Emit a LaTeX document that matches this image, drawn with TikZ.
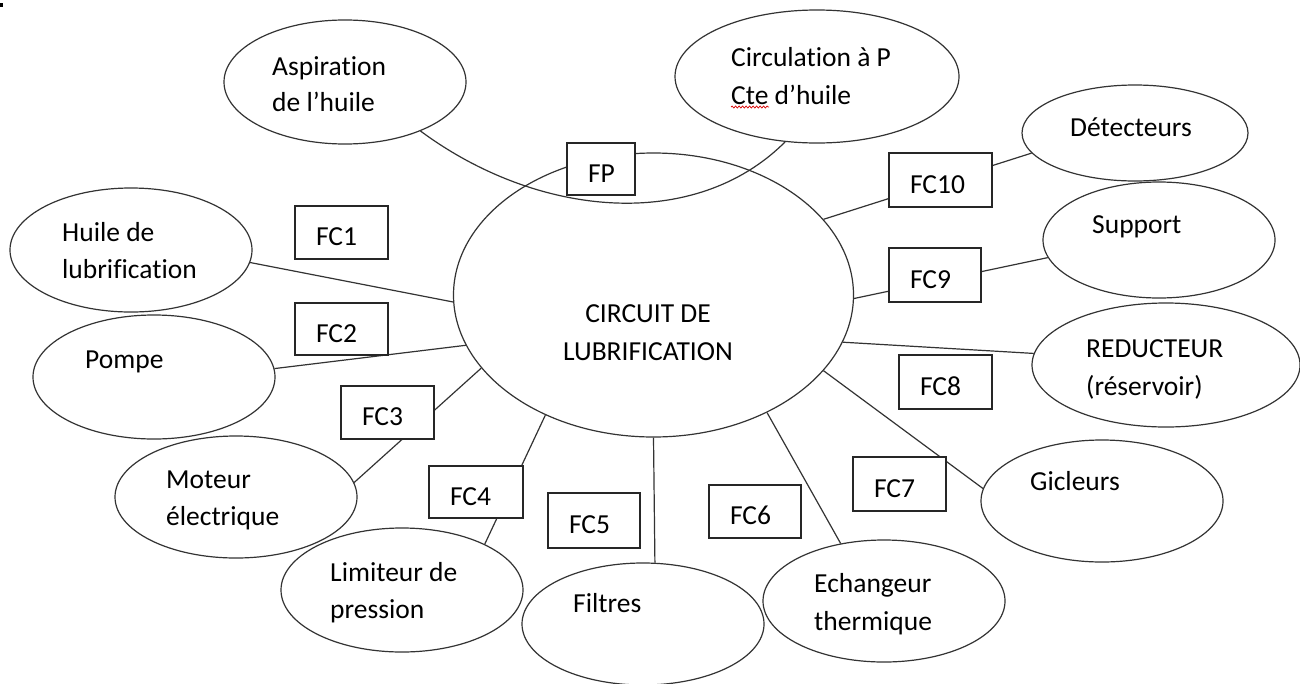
\documentclass[tikz,border=0pt]{standalone}
\usepackage{fontspec}
\setmainfont{Carlito}[Ligatures={NoCommon,NoRare,NoContextual}]
\usetikzlibrary{shapes.geometric,decorations.pathmorphing}
\newcommand\lblfont{\fontsize{27.5}{33}\selectfont}
\begin{document}
\begin{tikzpicture}[x=1pt,y=-1pt,
  ell/.style={ellipse, draw=black!80, line width=1.2pt, inner sep=0pt},
  fcbox/.style={rectangle, draw=black!85, line width=1.2pt, fill=white,
    inner xsep=0pt, inner ysep=0pt, align=left, text height=26pt,
    text depth=0pt, font=\lblfont},
  conn/.style={draw=black!80, line width=1.2pt},
  txt/.style={anchor=base west, inner sep=0pt, font=\lblfont},
  ctxt/.style={anchor=base, inner sep=0pt, font=\lblfont}]
\fill[white] (0,0) rectangle (1300,683);
\useasboundingbox (0,0) rectangle (1300,683);
\fill[black] (0,3) rectangle (3,7);

% ellipses
\node[ell, minimum width=400pt, minimum height=284pt] (c) at (653.5,295) {};
\node[ell, minimum width=242pt, minimum height=124pt] (asp) at (345,82) {};
\node[ell, minimum width=284pt, minimum height=133pt] (circ) at (817,76.5) {};
\node[ell, minimum width=226pt, minimum height=96pt] (det) at (1135,133) {};
\node[ell, minimum width=232pt, minimum height=116pt] (sup) at (1159,240) {};
\node[ell, minimum width=268pt, minimum height=124pt] (red) at (1166,365) {};
\node[ell, minimum width=242pt, minimum height=122pt] (gic) at (1102,501) {};
\node[ell, minimum width=242pt, minimum height=122pt] (ech) at (884,601) {};
\node[ell, minimum width=242pt, minimum height=122pt] (fil) at (643,624) {};
\node[ell, minimum width=242pt, minimum height=124pt] (lim) at (402,590) {};
\node[ell, minimum width=242pt, minimum height=122pt] (mot) at (236,497) {};
\node[ell, minimum width=242pt, minimum height=124pt] (pom) at (154,377) {};
\node[ell, minimum width=242pt, minimum height=124pt] (hui) at (131,250) {};

% texts
\node[ctxt] (tc1) at (648,322) {CIRCUIT DE};
\node[ctxt] (tc2) at (648,360) {LUBRIFICATION};
\node[txt] (tasp1) at (272,75) {Aspiration};
\node[txt] (tasp2) at (272,111) {de l’huile};
\node[txt] (tcirc1) at (731,66) {Circulation à P};
\node[txt] (tcirc2) at (731,104) {Cte d’huile};
\node[txt] (tdet) at (1070,136) {Détecteurs};
\node[txt] (tsup) at (1092,233) {Support};
\node[txt] (tred1) at (1086,357) {REDUCTEUR};
\node[txt] (tred2) at (1086,395) {(réservoir)};
\node[txt] (tgic) at (1030,490) {Gicleurs};
\node[txt] (tech1) at (814,592) {Echangeur};
\node[txt] (tech2) at (814,630) {thermique};
\node[txt] (tfil) at (573,612) {Filtres};
\node[txt] (tlim1) at (330,581) {Limiteur de};
\node[txt] (tlim2) at (330,618) {pression};
\node[txt] (tmot1) at (166,488) {Moteur};
\node[txt] (tmot2) at (166,525) {électrique};
\node[txt] (tpom) at (85,368) {Pompe};
\node[txt] (thui1) at (62,241) {Huile de};
\node[txt] (thui2) at (62,278) {lubrification};

\draw[red!85!black, line width=0.7pt, decorate,
  decoration={snake, amplitude=1pt, segment length=3.5pt}]
  ([yshift=-3pt]tcirc2.base west) -- ++(38,0);

% connectors
\draw[conn] (hui.-6) -- (c.182.3);
\draw[conn] (pom.4) -- (c.195);
\draw[conn] (mot.7) -- (c.203);
\draw[conn] (lim.29.6) -- (c.228.1);
\draw[conn] (fil.79.8) -- (c.south);
\draw[conn] (ech.127.6) -- (c.-46.6);
\draw[conn] (gic.174.8) -- (c.-24);
\draw[conn] (red.175.7) -- (c.-14.9);
\draw[conn] (sup.189.2) -- (c.-1.5);
\draw[conn] (det.191.5) -- (c.24);
\draw[conn] (asp.-33) .. controls (538,218) and (695,232) .. (circ.-116);

% boxes
\node[fcbox, minimum width=68pt, minimum height=52pt, text width=26pt] (fp) at (601,169) {FP};
\node[fcbox, minimum width=93pt, minimum height=53pt, text width=51pt] (fc1) at (341.5,232.5) {FC1};
\node[fcbox, minimum width=93pt, minimum height=52pt, text width=51pt] (fc2) at (341.5,329) {FC2};
\node[fcbox, minimum width=93pt, minimum height=53pt, text width=51pt] (fc3) at (387.5,412.5) {FC3};
\node[fcbox, minimum width=94pt, minimum height=52pt, text width=52pt] (fc4) at (476,492) {FC4};
\node[fcbox, minimum width=92pt, minimum height=55pt, text width=50pt] (fc5) at (594,520.5) {FC5};
\node[fcbox, minimum width=92pt, minimum height=53pt, text width=50pt] (fc6) at (755,511.5) {FC6};
\node[fcbox, minimum width=93pt, minimum height=54pt, text width=51pt] (fc7) at (899.5,484) {FC7};
\node[fcbox, minimum width=93pt, minimum height=54pt, text width=51pt] (fc8) at (945.5,382) {FC8};
\node[fcbox, minimum width=92pt, minimum height=54pt, text width=50pt] (fc9) at (935,275) {FC9};
\node[fcbox, minimum width=103pt, minimum height=54pt, text width=61pt] (fc10) at (940.5,180) {FC10};
\end{tikzpicture}
\end{document}
